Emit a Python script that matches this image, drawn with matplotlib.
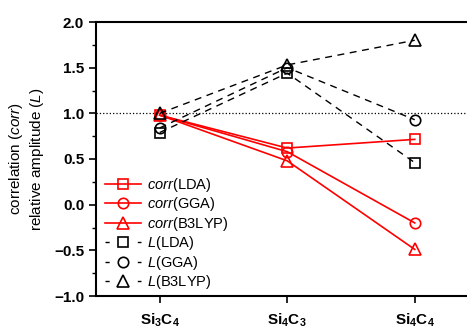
import numpy as np
import matplotlib
matplotlib.use('Agg')
import matplotlib.pyplot as plt
from matplotlib.ticker import MultipleLocator

plt.rcParams['font.family'] = ['Liberation Sans', 'DejaVu Sans']
plt.rcParams['mathtext.fontset'] = 'custom'
plt.rcParams['mathtext.rm'] = 'Liberation Sans'
plt.rcParams['mathtext.it'] = 'Liberation Sans:italic'
plt.rcParams['mathtext.bf'] = 'Liberation Sans:bold'

# data
structures = [r'$\mathbf{Si_3C_4}$', r'$\mathbf{Si_4C_3}$', r'$\mathbf{Si_4C_4}$']
corr_lda = [0.98, 0.62, 0.715]
corr_gga = [0.98, 0.58, -0.20]
corr_b3lyp = [0.98, 0.48, -0.49]
L_lda = [0.79, 1.44, 0.46]
L_gga = [0.84, 1.50, 0.93]
L_b3lyp = [1.00, 1.53, 1.80]

x = np.arange(len(structures))

fig = plt.figure(figsize=(4.67, 3.29), dpi=100)
ax = fig.add_axes([96/467, 33/329, 382.5/467, 274/329])

ms = 7.5
red = '#ff0000'
dash = (0, (5, 4))

ax.axhline(1.0, color='k', ls=':', lw=0.9, zorder=1)

ax.plot(x, corr_lda, color=red, lw=1.2, marker='s', ms=ms, mfc='none', mew=1.2,
        label=r'$\it{corr}$(LDA)')
ax.plot(x, corr_gga, color=red, lw=1.2, marker='o', ms=ms, mfc='none', mew=1.2,
        label=r'$\it{corr}$(GGA)')
ax.plot(x, corr_b3lyp, color=red, lw=1.2, marker='^', ms=ms + 1, mfc='none', mew=1.2,
        label=r'$\it{corr}$(B3LYP)')
ax.plot(x, L_lda, color='k', lw=1.0, ls=dash, marker='s', ms=ms, mfc='none', mew=1.2,
        label=r'$\it{L}$(LDA)')
ax.plot(x, L_gga, color='k', lw=1.0, ls=dash, marker='o', ms=ms, mfc='none', mew=1.2,
        label=r'$\it{L}$(GGA)')
ax.plot(x, L_b3lyp, color='k', lw=1.0, ls=dash, marker='^', ms=ms + 1, mfc='none', mew=1.2,
        label=r'$\it{L}$(B3LYP)')

ax.set_xlim(-0.5, 2.5)
ax.set_ylim(-1.0, 2.0)
ax.set_xticks(x)
ax.set_xticklabels(structures, fontsize=11)
ax.yaxis.set_major_locator(MultipleLocator(0.5))
ax.yaxis.set_minor_locator(MultipleLocator(0.25))
for lab in ax.get_yticklabels():
    lab.set_fontweight('bold')
    lab.set_fontsize(11)
ax.tick_params(axis='both', which='major', direction='out', length=5, width=1.2)
ax.tick_params(axis='y', which='minor', direction='out', length=3, width=1.0)
ax.tick_params(axis='x', pad=6)
for s in ax.spines.values():
    s.set_linewidth(1.5)

ax.set_ylabel('correlation (' + r'$\it{corr}$' + ')\nrelative amplitude (' + r'$\it{L}$' + ')',
              fontsize=11, labelpad=6)

leg = ax.legend(loc='upper left', bbox_to_anchor=(0.0, 0.47), frameon=False,
                fontsize=10.5, handlelength=2.5, handletextpad=0.4,
                labelspacing=0.1, borderaxespad=0.2)
# short dash stubs either side of the marker for the L entries
# (handle is 2.5 * 10.5 pt long, so the pattern spans 26.25 pt)
for ln in leg.get_lines()[3:]:
    ln.set_linestyle((0, (3, 20.25)))

fig.savefig('out.png', dpi=100)
